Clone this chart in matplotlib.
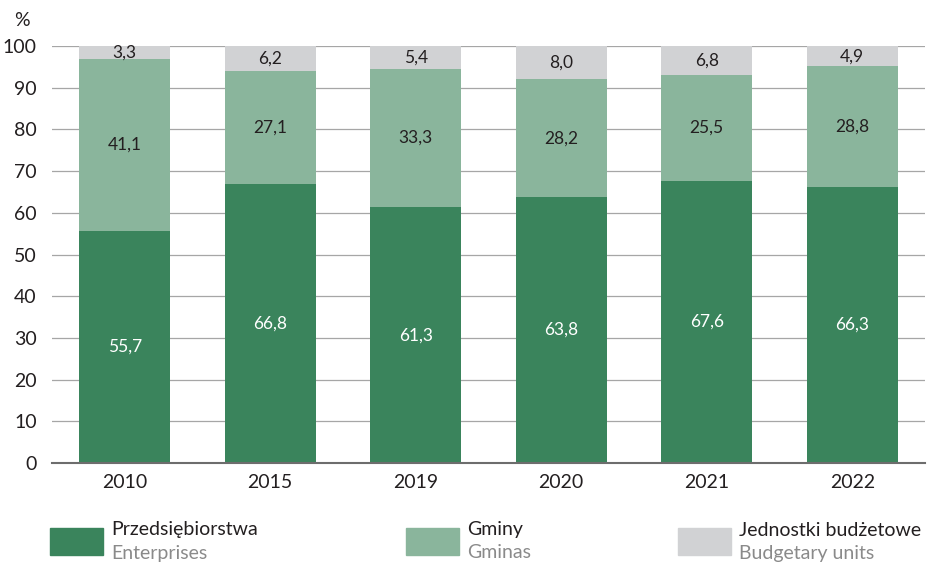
import matplotlib
matplotlib.use("Agg")
import matplotlib.pyplot as plt
import numpy as np
from matplotlib.patches import Rectangle

years = ["2010", "2015", "2019", "2020", "2021", "2022"]
enterprises = [55.7, 66.8, 61.3, 63.8, 67.6, 66.3]
gminas = [41.1, 27.1, 33.3, 28.2, 25.5, 28.8]
budgetary = [3.3, 6.2, 5.4, 8.0, 6.8, 4.9]

series_pl = ["Przedsiębiorstwa", "Gminy", "Jednostki budżetowe"]
series_en = ["Enterprises", "Gminas", "Budgetary units"]
colors = ["#3a845c", "#8ab59c", "#d1d2d4"]
label_colors = ["white", "#231f20", "#231f20"]

plt.rcParams['font.family'] = ['Lato', 'DejaVu Sans']

fig = plt.figure(figsize=(9.30, 5.62), dpi=100)
ax = fig.add_axes([52/930, 1-463/562, (925-52)/930, (463-46)/562])

x = np.arange(len(years))
width = 0.625
bottom = np.zeros(len(years))
for vals, col, lc in zip([enterprises, gminas, budgetary], colors, label_colors):
    vals = np.array(vals)
    ax.bar(x, vals, width, bottom=bottom, color=col, zorder=2)
    for xi, b, v in zip(x, bottom, vals):
        ax.text(xi, b + v/2, f"{v:.1f}".replace(".", ","), ha="center", va="center",
                color=lc, fontsize=12.5, zorder=3)
    bottom += vals

ax.set_xlim(-0.5, len(years) - 0.5)
ax.set_ylim(0, 100)
ax.set_yticks(range(0, 101, 10))
ax.set_xticks(x)
ax.set_xticklabels(years)
ax.tick_params(axis="both", length=0, labelsize=14, colors="#231f20")
ax.tick_params(axis="y", pad=11)
ax.tick_params(axis="x", pad=8)
ax.grid(axis="y", color="#a6a6a6", linewidth=0.9, zorder=0)
for s in ["top", "right", "left"]:
    ax.spines[s].set_visible(False)
ax.spines["bottom"].set_color("#6d6d6d")
ax.spines["bottom"].set_linewidth(1.5)
ax.spines["bottom"].set_zorder(4)

fig.text(22/930, 1-20/562, "%", fontsize=14, color="#231f20", ha="center", va="center")

leg_x = [50, 406, 678]
for lx, col, pl, en in zip(leg_x, colors, series_pl, series_en):
    fig.patches.append(Rectangle((lx/930, 1-555/562), 53/930, 27/562,
                                 transform=fig.transFigure, color=col))
    fig.text((lx+61)/930, 1-530/562, pl, fontsize=14, color="#231f20", va="center", ha="left")
    fig.text((lx+61)/930, 1-553/562, en, fontsize=14, color="#8a8a8a", va="center", ha="left")

fig.savefig("out.png", dpi=100)
